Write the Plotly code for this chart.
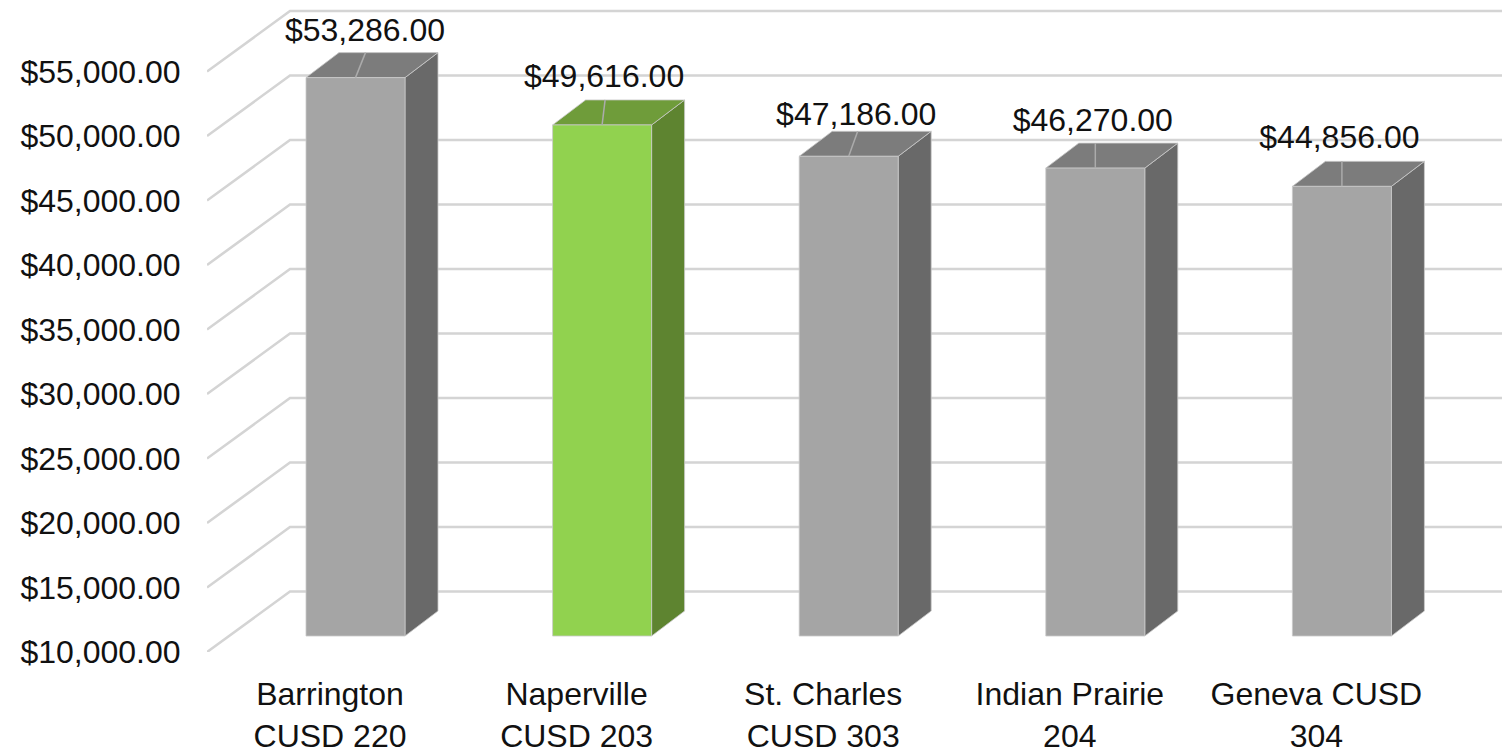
import plotly.graph_objects as go

districts = ["Barrington<br>CUSD 220", "Naperville<br>CUSD 203", "St. Charles<br>CUSD 303",
             "Indian Prairie<br>204", "Geneva CUSD<br>304"]
values = [53286, 49616, 47186, 46270, 44856]
y_ticks = [10000, 15000, 20000, 25000, 30000, 35000, 40000, 45000, 50000, 55000]

# colours per bar: front, top, side
front_colors = ["#a5a5a5", "#91d24f", "#a5a5a5", "#a5a5a5", "#a5a5a5"]
top_colors = ["#7c7c7c", "#6f9c3a", "#7c7c7c", "#7c7c7c", "#7c7c7c"]
side_colors = ["#696969", "#5e8430", "#696969", "#696969", "#696969"]

# pixel geometry of the oblique projection
W, H = 1502, 753
LEFT, BOTTOM = 207, 652
PX_PER_USD = 0.0129
PX_PER_CAT = 246.6
FIRST_CENTER = 355.5
def dx(px): return px / PX_PER_CAT
def dy(px): return px / PX_PER_USD

YMIN = y_ticks[0]
WALL_X, WALL_Y = dx(83), dy(60.5)       # depth of the floor
PLANE_Y = dy(16)                         # bars stand this far into the floor
DEPTH_X, DEPTH_Y = dx(33), dy(25)        # depth of one bar
HALF = dx(49.5)
X0 = (LEFT - FIRST_CENTER) / PX_PER_CAT
X1 = (W - FIRST_CENTER) / PX_PER_CAT
Y1 = YMIN + dy(BOTTOM)
TICK_SHIFT = dx(25.5)

# data-label placement, pixels relative to the front top edge centre
label_dx = [9.5, 2, 7.5, -2.5, -2.5]
label_dy = [44.5, 45.5, 39.5, 45.5, 46.5]
leader_dx = [10, 3, 9, 0, 0]

fig = go.Figure()

# wall and floor gridlines
gx, gy = [], []
for t in y_ticks:
    gx += [X0, X0 + WALL_X, X1, None]
    gy += [t, t + WALL_Y, t + WALL_Y, None]
fig.add_trace(go.Scatter(x=gx, y=gy, mode="lines", line=dict(color="#d4d4d4", width=2.6),
                         hoverinfo="skip", showlegend=False))

EDGE = "#c9c9c9"
def face(xs, ys, color):
    fig.add_trace(go.Scatter(x=xs, y=ys, mode="lines", fill="toself", fillcolor=color,
                             line=dict(color=EDGE, width=0.8), hoverinfo="skip", showlegend=False))

for i, v in enumerate(values):
    xl, xr = i - HALF, i + HALF
    yb, yt = YMIN + PLANE_Y, v + PLANE_Y
    face([xr, xr + DEPTH_X, xr + DEPTH_X, xr, xr],
         [yb, yb + DEPTH_Y, yt + DEPTH_Y, yt, yb], side_colors[i])
    face([xl, xr, xr + DEPTH_X, xl + DEPTH_X, xl],
         [yt, yt, yt + DEPTH_Y, yt + DEPTH_Y, yt], top_colors[i])
    face([xl, xr, xr, xl, xl], [yb, yb, yt, yt, yb], front_colors[i])
    fig.add_trace(go.Scatter(x=[i, i + dx(leader_dx[i])], y=[yt, yt + DEPTH_Y], mode="lines",
                             line=dict(color="#ababab", width=1.5), hoverinfo="skip", showlegend=False))

fig.add_trace(go.Scatter(
    x=[i + dx(label_dx[i]) for i in range(len(values))],
    y=[v + PLANE_Y + dy(label_dy[i]) for i, v in enumerate(values)],
    mode="text", text=[f"${v:,.2f}" for v in values], textposition="middle center",
    textfont=dict(family="Liberation Sans", size=32, color="#111111"),
    cliponaxis=False, hoverinfo="skip", showlegend=False))

fig.update_layout(
    width=W, height=H, margin=dict(l=LEFT, r=0, t=0, b=H - BOTTOM, autoexpand=False),
    paper_bgcolor="white", plot_bgcolor="white", showlegend=False,
    font=dict(family="Liberation Sans", size=32, color="#111111"),
    xaxis=dict(range=[X0, X1], showgrid=False, zeroline=False, showline=False,
               tickmode="array", tickvals=[i - TICK_SHIFT for i in range(len(districts))],
               ticktext=districts, ticks="outside", ticklen=14, tickcolor="rgba(0,0,0,0)", tickangle=0),
    yaxis=dict(range=[YMIN, Y1], showgrid=False, zeroline=False, showline=False,
               tickmode="array", tickvals=y_ticks, ticktext=[f"${t:,.2f}" for t in y_ticks],
               ticks="outside", ticklen=19, tickcolor="rgba(0,0,0,0)"),
)
fig.write_html("out.html", config={"displayModeBar": False},
               post_script="document.body.style.margin='0';document.body.style.overflow='hidden';")
